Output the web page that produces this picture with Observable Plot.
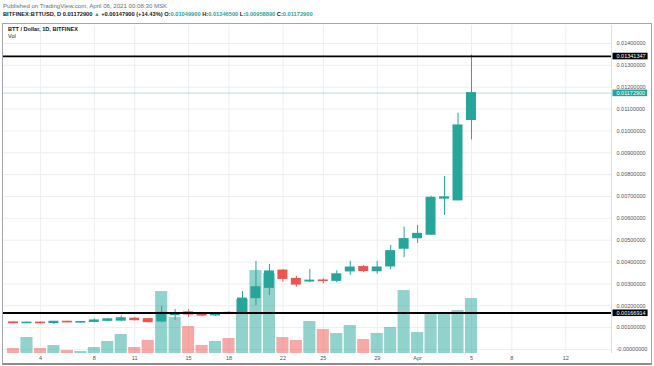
<!DOCTYPE html>
<html>
<head>
<meta charset="utf-8">
<script src="https://cdn.jsdelivr.net/npm/d3@7"></script>
<script src="https://cdn.jsdelivr.net/npm/@observablehq/plot@0.6"></script>
<style>
  body { margin: 0; background: #fff; font-family: "Liberation Sans", Arial, sans-serif; }
  #wrap { position: relative; width: 654px; height: 366px; overflow: hidden; background: #fff; }
  #wrap svg { position: absolute; left: 0; top: 0; }
  .ov { position: absolute; white-space: nowrap; z-index: 2; }
  #l1 { left: 3px; top: 2px; font-size: 6.1px; color: #6a6d78; }
  #l2 { left: 3px; top: 11px; font-size: 5.7px; color: #131722; font-weight: bold; }
  #l2 .v { color: #26a69a; }
  #frame { position: absolute; left: 2px; top: 23px; width: 648px; height: 339px; border: 1px solid #a3a6af; border-bottom: 2px solid #8a8d96; z-index: 3; pointer-events: none; }
  #t1 { left: 8px; top: 26px; font-size: 5.6px; color: #131722; font-weight: bold; }
  #t2 { left: 8px; top: 33px; font-size: 5.6px; color: #131722; }
</style>
</head>
<body>
<div id="wrap">
  <div class="ov" id="l1">Published on TradingView.com, April 06, 2021 00:08:30 MSK</div>
  <div class="ov" id="l2">BITFINEX:BTTUSD, D 0.01172900 <span class="v">▲</span> +0.00147900 (+14.43%) O:<span class="v">0.01049900</span> H:<span class="v">0.01346500</span> L:<span class="v">0.00958890</span> C:<span class="v">0.01172900</span></div>
  <div id="frame"></div>
  <div class="ov" id="t1">BTT / Dollar, 1D, BITFINEX</div>
  <div class="ov" id="t2">Vol</div>
</div>
<script>
// ---- data ----
const dates = ["2021-03-02","2021-03-03","2021-03-04","2021-03-05","2021-03-06","2021-03-07","2021-03-08",
  "2021-03-09","2021-03-10","2021-03-11","2021-03-12","2021-03-13","2021-03-14","2021-03-15","2021-03-16",
  "2021-03-17","2021-03-18","2021-03-19","2021-03-20","2021-03-21","2021-03-22","2021-03-23","2021-03-24",
  "2021-03-25","2021-03-26","2021-03-27","2021-03-28","2021-03-29","2021-03-30","2021-03-31","2021-04-01",
  "2021-04-02","2021-04-03","2021-04-04","2021-04-05"];
const open  = [0.00124,0.00120,0.00123,0.00121,0.00127,0.00123,0.00126,0.00131,0.00132,0.00141,0.00139,0.00128,
  0.00157,0.00170,0.00162,0.00156,0.00168,0.00167,0.00235,0.00282,0.00361,0.00323,0.00311,0.00316,0.00314,
  0.00357,0.00377,0.00358,0.00380,0.00461,0.00509,0.00525,0.00690,0.00682,0.010499];
const high  = [0.00126,0.00125,0.00125,0.00128,0.00129,0.00127,0.00140,0.00142,0.00154,0.00147,0.00141,0.00197,
  0.00183,0.00182,0.00166,0.00165,0.00172,0.00265,0.00403,0.00389,0.00365,0.00335,0.00366,0.00323,0.00360,
  0.00404,0.00385,0.00403,0.00476,0.00560,0.00567,0.00701,0.00791,0.01081,0.013465];
const low   = [0.00118,0.00118,0.00118,0.00114,0.00122,0.00120,0.00122,0.00127,0.00127,0.00130,0.00122,0.00122,
  0.00133,0.00148,0.00150,0.00152,0.00160,0.00160,0.00200,0.00247,0.00308,0.00285,0.00305,0.00300,0.00305,
  0.00339,0.00352,0.00345,0.00365,0.00420,0.00485,0.00522,0.00613,0.00680,0.0095889];
const close = [0.00120,0.00123,0.00120,0.00127,0.00124,0.00126,0.00133,0.00138,0.00143,0.00134,0.00125,0.00168,
  0.00163,0.00160,0.00155,0.00160,0.00162,0.00233,0.00285,0.00357,0.00323,0.00297,0.00315,0.00313,0.00344,
  0.00375,0.00359,0.00375,0.00450,0.00505,0.00529,0.00694,0.00696,0.01025,0.011729];
// volume, billions of BTT (approximate, axis hidden in the original)
const volume = [0.5,1.6,0.5,0.8,0.3,0.2,0.6,1.2,1.9,0.6,1.3,6.2,3.6,2.7,0.8,1.2,1.5,5.4,8.3,8.0,
  1.6,1.3,3.2,2.4,2.0,2.8,1.4,2.0,2.6,6.3,2.1,3.9,4.1,4.3,5.5];

const yTicks = [0,0.001,0.002,0.003,0.004,0.005,0.006,0.007,0.008,0.009,0.010,0.011,0.012,0.013,0.014];
const yTickLabels = ["-0.00000000","0.00100000","0.00200000","0.00300000","0.00400000","0.00500000",
  "0.00600000","0.00700000","0.00800000","0.00900000","0.01000000","0.01100000","0.01200000","0.01300000","0.01400000"];
const xTicks = ["2021-03-04","2021-03-08","2021-03-11","2021-03-15","2021-03-18","2021-03-22",
  "2021-03-25","2021-03-29","2021-04-01","2021-04-05","2021-04-08","2021-04-12"];
const xTickLabels = ["4","8","11","15","18","22","25","29","Apr","5","8","12"];

const blackLevels = [0.01341347, 0.00166914];
const blackLevelLabels = ["0.01341347", "0.00166914"];
const lastPrice = [0.011729];
const lastPriceLabels = ["0.01172900"];

// ---- styling / scale config ----
const UP = "#26a69a", DOWN = "#ef5350";
const UPV = "rgba(38,166,154,0.5)", DOWNV = "rgba(239,83,80,0.5)";
const DAY = 864e5;
const yDomain = [-0.000183, 0.0148216];
const xDomain = [new Date(Date.UTC(2021,2,1,6,11)), new Date(Date.UTC(2021,3,15,9,29))];
const volToPrice = 0.000457; // height of 1 volume unit in price units (overlay panel)

const rows = dates.map((d, i) => ({
  date: new Date(d + "T00:00:00Z"),
  open: open[i], high: high[i], low: low[i], close: close[i], volume: volume[i],
  up: close[i] >= open[i]
}));
const xTickDates = xTicks.map(d => new Date(d + "T00:00:00Z"));
const xLabelMap = new Map(xTickDates.map((d, i) => [+d, xTickLabels[i]]));
const yLabelMap = new Map(yTicks.map((v, i) => [Math.round(v * 1000), yTickLabels[i]]));
const shift = (d, k) => new Date(+d + k * DAY);

const levelRows = blackLevels.map((v, i) => ({v, label: blackLevelLabels[i]}));
const lastRows = lastPrice.map((v, i) => ({v, label: lastPriceLabels[i]}));

const svg = Plot.plot({
  width: 654,
  height: 366,
  marginLeft: 3,
  marginRight: 43,
  marginTop: 25,
  marginBottom: 13,
  style: {background: "transparent", fontFamily: "Liberation Sans, Arial, sans-serif"},
  x: {type: "utc", domain: xDomain},
  y: {domain: yDomain},
  marks: [
    Plot.gridY({ticks: yTicks, stroke: "#eceef2", strokeOpacity: 1}),
    Plot.gridX({ticks: xTickDates, stroke: "#eceef2", strokeOpacity: 1}),
    Plot.ruleX([xDomain[1]], {stroke: "#dcdfe6"}),
    // volume overlay
    Plot.rect(rows, {
      x1: d => shift(d.date, -0.45), x2: d => shift(d.date, 0.45),
      y1: () => yDomain[0], y2: d => yDomain[0] + d.volume * volToPrice,
      fill: d => d.up ? UPV : DOWNV
    }),
    // wicks
    Plot.ruleX(rows, {x: "date", y1: "low", y2: "high", stroke: d => d.up ? UP : DOWN, strokeWidth: 1}),
    // bodies
    Plot.rect(rows, {
      x1: d => shift(d.date, -0.37), x2: d => shift(d.date, 0.37),
      y1: "open", y2: "close", fill: d => d.up ? UP : DOWN,
      insetTop: -0.5, insetBottom: -0.5
    }),
    // last price line
    Plot.ruleY(lastRows, {y: "v", stroke: UP, strokeOpacity: 0.35, strokeWidth: 1}),
    // horizontal levels
    Plot.ruleY(levelRows, {y: "v", stroke: "#000", strokeWidth: 1.8}),
    Plot.axisY({anchor: "right", ticks: yTicks, tickSize: 0, tickPadding: 5, fontSize: 5.5,
      fill: "#50535e", tickFormat: v => yLabelMap.get(Math.round(v * 1000))}),
    Plot.axisX({anchor: "bottom", ticks: xTickDates, tickSize: 0, tickPadding: 3, fontSize: 5.5,
      fill: "#50535e", tickFormat: d => xLabelMap.get(+d)}),
    Plot.text(levelRows, {x: () => xDomain[1], y: "v", text: "label", dx: 5, textAnchor: "start",
      fill: "#fff", fontSize: 5.5, className: "box-black"}),
    Plot.text(lastRows, {x: () => xDomain[1], y: "v", text: "label", dx: 5, textAnchor: "start",
      fill: "#fff", fontSize: 5.5, className: "box-teal"})
  ]
});
document.getElementById("wrap").appendChild(svg);

function addBoxes(cls, color) {
  svg.querySelectorAll(`g.${cls} text`).forEach(t => {
    const b = t.getBBox();
    const r = document.createElementNS("http://www.w3.org/2000/svg", "rect");
    r.setAttribute("x", b.x - 4);
    r.setAttribute("y", b.y - 0.3);
    r.setAttribute("width", b.width + 6);
    r.setAttribute("height", b.height + 0.6);
    r.setAttribute("fill", color);
    r.setAttribute("stroke", "none");
    if (t.getAttribute("transform")) r.setAttribute("transform", t.getAttribute("transform"));
    t.parentNode.insertBefore(r, t);
  });
}
addBoxes("box-black", "#000");
addBoxes("box-teal", UP);
</script>
</body>
</html>
